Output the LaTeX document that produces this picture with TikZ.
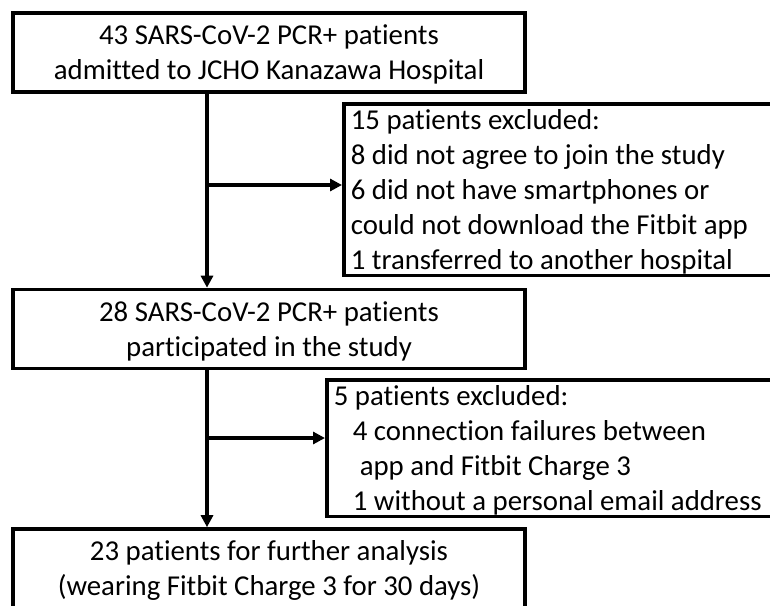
\documentclass[tikz,border=0pt]{standalone}
\usepackage{fontspec}
\setmainfont{Carlito}[Ligatures=NoCommon]
\usetikzlibrary{arrows.meta}

\begin{document}
\begin{tikzpicture}[x=1pt,y=-1pt,%%
  boxDecorate/.style={%%
    draw,line width=3.6pt,rectangle,inner sep=0pt,%%
    minimum width=512pt,minimum height=79pt,align=center,%%
    font=\fontsize{28.8}{35}\selectfont%%
  },%%
  exclDecorate/.style={%%
    draw,line width=3.6pt,rectangle,anchor=north west,%%
    inner xsep=7pt,inner ysep=1.2pt,text width=460pt,align=flush left,%%
    font=\fontsize{28.8}{35}\selectfont%%
  },%%
  arrowDecorate/.style={line width=3.6pt,-{Triangle[length=12pt,width=12pt]}}%%
]
%%
%% Page frame.
\useasboundingbox (0,0) rectangle (770,605);
\clip (0,0) rectangle (770,605);
%%
%% Global variables.
\pgfmathsetmacro{\boxX}{269}
\pgfmathsetmacro{\trunkX}{207}
%%
%% Main boxes.
\node[boxDecorate] (box1) at (\boxX,52.5)
  {\strut 43 SARS-CoV-2 PCR+ patients\\admitted to JCHO Kanazawa Hospital};
\node[boxDecorate] (box2) at (\boxX,329)
  {\strut 28 SARS-CoV-2 PCR+ patients\\participated in the study};
\node[boxDecorate] (box3) at (\boxX,568.5)
  {\strut 23 patients for further analysis\\(wearing Fitbit Charge 3 for 30 days)};
%%
%% Exclusion boxes.
\node[exclDecorate] (excl1) at (342,102)
  {\strut 15 patients excluded:\\8 did not agree to join the study\\%%
   6 did not have smartphones or\\could not download the Fitbit app\\%%
   1 transferred to another hospital};
\node[exclDecorate] (excl2) at (325,378)
  {\strut 5 patients excluded:\\\hspace*{19pt}4 connection failures between\\%%
   \hspace*{26pt}app and Fitbit Charge 3\\%%
   \hspace*{19pt}1 without a personal email address};
%%
%% Branch points on the trunk.
\coordinate (branchA) at (\trunkX,185);
\coordinate (branchB) at (\trunkX,438);
%%
%% Arrows.
\draw[arrowDecorate] (box1.south -| branchA) -- (box2.north -| branchA);
\draw[arrowDecorate] (box2.south -| branchB) -- (box3.north -| branchB);
\draw[arrowDecorate] (branchA) -- (branchA -| excl1.west);
\draw[arrowDecorate] (branchB) -- (branchB -| excl2.west);
\end{tikzpicture}
\end{document}
